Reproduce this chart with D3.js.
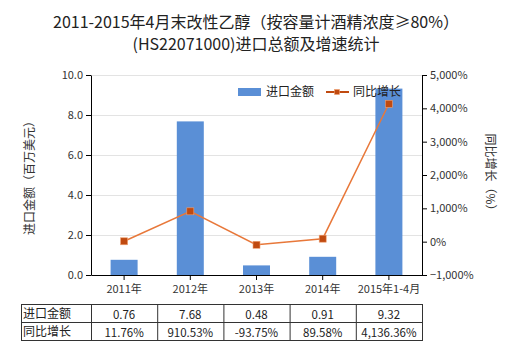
<!DOCTYPE html>
<html><head><meta charset="utf-8">
<script src="https://cdn.jsdelivr.net/npm/d3@7"></script>
<style>body{margin:0;background:#fff;}svg{display:block;font-family:"Noto Sans CJK SC","Noto Sans",sans-serif;}</style>
</head><body><svg id="c" width="520" height="350"></svg>
<script>
const categories = ["2011年","2012年","2013年","2014年","2015年1-4月"];
const amounts = [0.76, 7.68, 0.48, 0.91, 9.32];
const growth = [11.76, 910.53, -93.75, 89.58, 4136.36];
const amountLabels = ["0.76","7.68","0.48","0.91","9.32"];
const growthLabels = ["11.76%","910.53%","-93.75%","89.58%","4,136.36%"];
const leftTicks = [0,2,4,6,8,10];
const rightTicks = [-1000,0,1000,2000,3000,4000,5000];

const svg = d3.select("#c");
const L = 91, R = 422, T = 75, B = 275;
const xc = d3.scaleBand().domain(categories).range([L, R]);
const yL = d3.scaleLinear().domain([0, 10]).range([B, T]);
const yR = d3.scaleLinear().domain([-1000, 5000]).range([B, T]);

// title
const title = svg.append("text").attr("text-anchor","middle").attr("font-size",16).attr("fill","#222");
title.append("tspan").attr("x",256).attr("y",28).text("2011-2015年4月末改性乙醇（按容量计酒精浓度≥80%）");
title.append("tspan").attr("x",256).attr("y",50).text("(HS22071000)进口总额及增速统计");

// grid
svg.append("g").selectAll("line").data(leftTicks.filter(d=>d>0)).join("line")
  .attr("x1",L).attr("x2",R).attr("y1",d=>yL(d)+0.5).attr("y2",d=>yL(d)+0.5)
  .attr("stroke","#e3e3e3").attr("stroke-width",1);

// bars
svg.append("g").selectAll("rect").data(amounts).join("rect")
  .attr("x",(d,i)=>xc(categories[i]) + xc.bandwidth()/2 - 13.5)
  .attr("width",27)
  .attr("y",d=>yL(d)).attr("height",d=>B - yL(d))
  .attr("fill","#5a8fd6");

// axes
const fmtL = d3.format(".1f");
const gL = svg.append("g").attr("transform",`translate(${L},0)`)
  .call(d3.axisLeft(yL).tickValues(leftTicks).tickFormat(fmtL).tickSize(5).tickSizeOuter(0));
const gR = svg.append("g").attr("transform",`translate(${R},0)`)
  .call(d3.axisRight(yR).tickValues(rightTicks).tickFormat(d=>d3.format(",")(d)+"%").tickSize(5).tickSizeOuter(0));
const gB = svg.append("g").attr("transform",`translate(0,${B})`)
  .call(d3.axisBottom(xc).tickSize(5).tickSizeOuter(0));
[gL,gR,gB].forEach(g=>{
  g.selectAll("path").attr("stroke","#000");
  g.selectAll("line").attr("stroke","#000");
  g.selectAll("text").attr("font-size",11).attr("fill","#333").attr("font-family","\"Noto Sans CJK SC\",sans-serif");
});
gB.selectAll("text").attr("dy","0.9em");

// axis titles
svg.append("text").attr("transform","translate(34,175) rotate(-90)").attr("text-anchor","middle")
  .attr("font-size",12).attr("fill","#333").text("进口金额（百万美元）");
svg.append("text").attr("transform","translate(486,175) rotate(90)").attr("text-anchor","middle")
  .attr("font-size",12).attr("fill","#333").text("同比增长（%）");

// line
const line = d3.line().x((d,i)=>xc(categories[i])+xc.bandwidth()/2).y(d=>yR(d));
svg.append("path").datum(growth).attr("d",line).attr("fill","none").attr("stroke","#e8783a").attr("stroke-width",1.5);
svg.append("g").selectAll("rect").data(growth).join("rect")
  .attr("x",(d,i)=>xc(categories[i])+xc.bandwidth()/2-3.5).attr("y",d=>yR(d)-3.5)
  .attr("width",7).attr("height",7).attr("fill","#c04a10").attr("stroke","#f0a070").attr("stroke-width",0.6);

// legend
svg.append("rect").attr("x",238).attr("y",88).attr("width",23).attr("height",8).attr("fill","#5a8fd6");
svg.append("text").attr("x",266).attr("y",96).attr("font-size",12).attr("fill","#222").text("进口金额");
svg.append("line").attr("x1",326).attr("x2",349).attr("y1",92).attr("y2",92).attr("stroke","#c04a10").attr("stroke-width",2);
svg.append("rect").attr("x",334.5).attr("y",89.5).attr("width",5).attr("height",5).attr("fill","#c04a10").attr("stroke","#f0a070").attr("stroke-width",0.6);
svg.append("text").attr("x",353).attr("y",96).attr("font-size",12).attr("fill","#222").text("同比增长");

// table
const tT = 304, tM = 322, tB = 340, tL = 21;
const tg = svg.append("g");
tg.append("rect").attr("x",tL+0.5).attr("y",tT+0.5).attr("width",R-tL).attr("height",tB-tT).attr("fill","none").attr("stroke","#333");
tg.append("line").attr("x1",tL).attr("x2",R).attr("y1",tM+0.5).attr("y2",tM+0.5).attr("stroke","#333");
tg.selectAll("line.v").data(categories).join("line").attr("class","v")
  .attr("x1",d=>xc(d)+0.5).attr("x2",d=>xc(d)+0.5).attr("y1",tT).attr("y2",tB).attr("stroke","#333");
const rows = [["进口金额", amountLabels],["同比增长", growthLabels]];
rows.forEach((r,ri)=>{
  const yy = (ri===0? tT: tM) + 14;
  tg.append("text").attr("x",tL+2).attr("y",yy).attr("font-size",12).attr("fill","#222").text(r[0]);
  tg.selectAll("text.r"+ri).data(r[1]).join("text").attr("class","r"+ri)
    .attr("x",(d,i)=>xc(categories[i])+xc.bandwidth()/2).attr("y",yy+1)
    .attr("text-anchor","middle").attr("font-size",11.5).attr("fill","#222").text(d=>d);
});
</script></body></html>
